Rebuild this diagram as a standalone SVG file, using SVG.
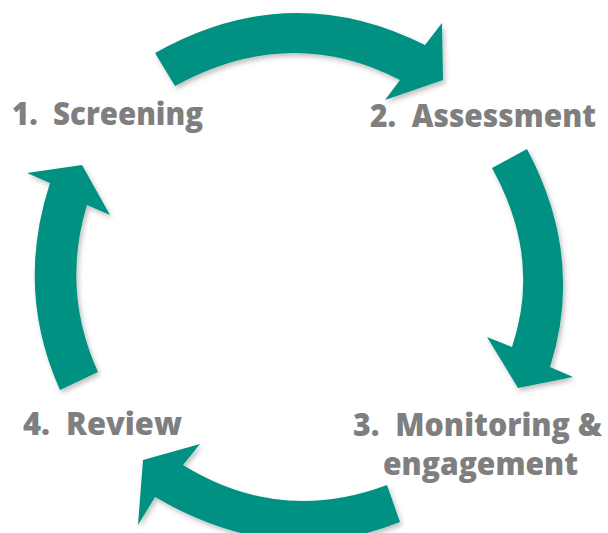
<svg xmlns="http://www.w3.org/2000/svg" width="608" height="533" viewBox="0 0 608 533">
<defs>
<filter id="sh" x="-20%" y="-20%" width="140%" height="140%">
<feDropShadow dx="2" dy="3" stdDeviation="2.5" flood-color="#000" flood-opacity="0.25"/>
</filter>
<style>
.arrow{fill:#009182;filter:url(#sh)}
.lbl{font-family:"Open Sans","Noto Sans","Liberation Sans",sans-serif;font-weight:800;font-size:31px;fill:#7F7F7F;white-space:pre}
</style>
</defs>
<rect width="608" height="533" fill="#FFFFFF"/>
<g id="connectors">
<path id="arrow-1-2" class="arrow" d="M155,53 Q290,-23 425,45 L442,23 L443,80 L385,100 L400,80 Q290,23 175,86 Z"/>
<path id="arrow-2-3" class="arrow" d="M527,149 Q585,258 550,367 L573,377 L518,388 L487,337 L512,347 Q542,258 492,168 Z"/>
<path id="arrow-3-4" class="arrow" d="M387,485 Q280,525 183,465 L200,444 L143,460 L138,525 L155,497 Q280,570 400,522 Z"/>
<path id="arrow-4-1" class="arrow" d="M60,390 Q15,290 50,183 L27,173 L82,165 L110,215 L87,205 Q61,290 98,372 Z"/>
</g>
<g id="node-1">
<text class="lbl" x="12" y="125" textLength="191" lengthAdjust="spacingAndGlyphs" xml:space="preserve">1.  Screening</text>
</g>
<g id="node-2">
<text class="lbl" x="370" y="127" textLength="226" lengthAdjust="spacingAndGlyphs" xml:space="preserve">2.  Assessment</text>
</g>
<g id="node-3">
<text class="lbl" x="353" y="436" textLength="249" lengthAdjust="spacingAndGlyphs" xml:space="preserve">3.  Monitoring &amp;</text>
<text class="lbl" x="383" y="475" textLength="195" lengthAdjust="spacingAndGlyphs">engagement</text>
</g>
<g id="node-4">
<text class="lbl" x="23" y="435" textLength="159" lengthAdjust="spacingAndGlyphs" xml:space="preserve">4.  Review</text>
</g>
</svg>
